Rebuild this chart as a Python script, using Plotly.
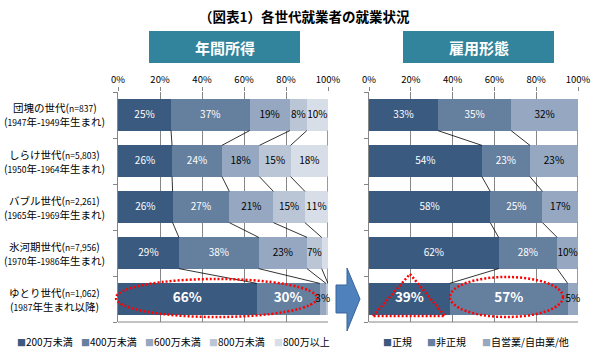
import plotly.graph_objects as go

FONT = "Noto Sans CJK JP"
W, H = 600, 356

# ---------------- data ----------------
categories = ["団塊の世代", "しらけ世代", "バブル世代", "氷河期世代", "ゆとり世代"]
sample_sizes = ["837", "5,803", "2,261", "7,956", "1,062"]
birth_from = ["1947", "1950", "1965", "1970", "1987"]
birth_to = ["1949", "1964", "1969", "1986", None]

income_series = ["200万未満", "400万未満", "600万未満", "800万未満", "800万以上"]
income_200 = [25, 26, 26, 29, 66]
income_400 = [37, 24, 27, 38, 30]
income_600 = [19, 18, 21, 23, 3]
income_800 = [8, 15, 15, 7, 1]
income_over = [10, 18, 11, 3, 0]
income_unlabeled = [("800万以上", 3), ("800万未満", 4), ("800万以上", 4)]

employment_series = ["正規", "非正規", "自営業/自由業/他"]
emp_regular = [33, 54, 58, 62, 39]
emp_nonregular = [35, 23, 25, 28, 57]
emp_self = [32, 23, 17, 10, 5]

x_ticks = [0, 20, 40, 60, 80, 100]
x_tick_labels = ["0%", "20%", "40%", "60%", "80%", "100%"]
highlight_row = 4  # ゆとり世代

# ---------------- style ----------------
income_colors = ["#3B5A80", "#657F9F", "#96A8C1", "#BAC6D6", "#D7DEE8"]
emp_colors = ["#3B5A80", "#657F9F", "#96A8C1"]
GRID = "#868686"
BAR_W = 0.68


def px(x, y):
    return x / W, 1 - y / H


fig = go.Figure()
ypos = list(range(len(categories)))


def add_chart(names, series, colors, xa, ya, unlabeled):
    totals = [sum(s[i] for s in series) for i in ypos]
    # stacked bars
    for k, (name, vals, col) in enumerate(zip(names, series, colors)):
        fig.add_trace(go.Bar(
            x=vals, y=ypos, orientation="h", name=name,
            marker=dict(color=col, line=dict(width=0)), width=BAR_W,
            xaxis=xa, yaxis=ya, showlegend=False, hoverinfo="skip"))
    # value labels at segment centres (normalised like barnorm='percent')
    tx, ty, tt, ts, tc = [], [], [], [], []
    running = [0.0] * len(ypos)
    lx, ly = [], []
    for k, (name, vals) in enumerate(zip(names, series)):
        for i in ypos:
            start = running[i] / totals[i] * 100
            end = (running[i] + vals[i]) / totals[i] * 100
            if (name, i) not in unlabeled:
                big = (i == highlight_row and k < 2)
                tx.append((start + end) / 2)
                ty.append(i)
                tt.append(f"<b>{vals[i]}%</b>" if big else f"{vals[i]}%")
                ts.append(13.5 if big else 10)
                tc.append("#FFFFFF" if k < 2 else "#000000")
        running = [running[i] + vals[i] for i in ypos]
        norm = [running[i] / totals[i] * 100 for i in ypos]
        for i in ypos[:-1]:
            lx += [norm[i], norm[i + 1], None]
            ly += [i + BAR_W / 2, i + 1 - BAR_W / 2, None]
    # series (connector) lines between consecutive bars
    fig.add_trace(go.Scatter(x=lx, y=ly, mode="lines",
                             line=dict(color="#000000", width=0.8),
                             xaxis=xa, yaxis=ya, showlegend=False,
                             hoverinfo="skip"))
    fig.add_trace(go.Scatter(x=tx, y=ty, mode="text", text=tt,
                             textposition="middle center",
                             textfont=dict(size=ts, color=tc, family=FONT),
                             cliponaxis=False, xaxis=xa, yaxis=ya,
                             showlegend=False, hoverinfo="skip"))


add_chart(income_series,
          [income_200, income_400, income_600, income_800, income_over],
          income_colors, "x", "y", income_unlabeled)
add_chart(employment_series,
          [emp_regular, emp_nonregular, emp_self],
          emp_colors, "x2", "y2", [])

ydom = [1 - 322 / H, 1 - 92 / H]
xcommon = dict(range=[0, 100], side="top", tickmode="array",
               tickvals=x_ticks, ticktext=x_tick_labels,
               showgrid=True, gridcolor=GRID, gridwidth=1, zeroline=False,
               ticks="outside", ticklen=4, tickcolor=GRID,
               tickfont=dict(size=9.5, color="#000000", family=FONT),
               showline=False, fixedrange=True, automargin=False)
ycommon = dict(range=[len(categories) - 0.5, -0.5], domain=ydom,
               tickmode="array",
               tickvals=[i - 0.5 for i in range(len(categories) + 1)],
               ticks="outside", ticklen=4, tickcolor=GRID,
               showticklabels=False, showline=True, linecolor=GRID,
               linewidth=1, showgrid=False, zeroline=False, fixedrange=True,
               automargin=False)

fig.update_layout(
    width=W, height=H, margin=dict(l=0, r=0, t=0, b=0, pad=0),
    paper_bgcolor="#FFFFFF", plot_bgcolor="#FFFFFF",
    barmode="stack", barnorm="percent", showlegend=False,
    font=dict(family=FONT, color="#000000"),
    xaxis=dict(domain=[118 / W, 328 / W], anchor="y", **xcommon),
    xaxis2=dict(domain=[369 / W, 578 / W], anchor="y2", **xcommon),
    yaxis=dict(anchor="x", **ycommon),
    yaxis2=dict(anchor="x2", **ycommon),
)

shapes = []
annotations = []

# bottom axis lines
for xd, yd in (("x domain", "y domain"), ("x2 domain", "y2 domain")):
    shapes.append(dict(type="line", xref=xd, yref=yd, x0=0, x1=1, y0=0, y1=0,
                       line=dict(color=GRID, width=1)))

# header boxes
for (x0, x1), label in (((149, 300), "年間所得"), ((403, 554), "雇用形態")):
    a0 = px(x0, 31)
    a1 = px(x1, 63)
    shapes.append(dict(type="rect", xref="paper", yref="paper",
                       x0=a0[0], y0=a1[1], x1=a1[0], y1=a0[1],
                       fillcolor="#31849B", line=dict(width=0), layer="below"))
    cx, cy = px((x0 + x1) / 2, 47)
    annotations.append(dict(xref="paper", yref="paper", x=cx, y=cy,
                            xanchor="center", yanchor="middle",
                            text=f"<b>{label}</b>", showarrow=False,
                            font=dict(size=15, color="#FFFFFF", family=FONT)))

# title
tx0, ty0 = px(304, 16)
annotations.append(dict(xref="paper", yref="paper", x=tx0, y=ty0,
                        xanchor="center", yanchor="middle",
                        text="<b>（図表1）各世代就業者の就業状況</b>",
                        showarrow=False,
                        font=dict(size=13.5, color="#000000", family=FONT)))

# category labels (two lines each)
small = "<span style='font-size:8.5px'>"
for i, cat in enumerate(categories):
    line1 = f"{cat}({small}n={sample_sizes[i]}</span>)"
    if birth_to[i]:
        line2 = f"({small}{birth_from[i]}</span>年-{small}{birth_to[i]}</span>年生まれ)"
    else:
        line2 = f"({small}{birth_from[i]}</span>年生まれ以降)"
    for txt, shift in ((line1, 7), (line2, -7)):
        annotations.append(dict(xref="paper", yref="y", x=55 / W, y=i,
                                yshift=shift, text=txt, showarrow=False,
                                xanchor="center", yanchor="middle",
                                font=dict(size=10.5, color="#000000",
                                          family=FONT)))


# legends (drawn as text)
def legend_row(names, colors, xs):
    for name, col, x in zip(names, colors, xs):
        lx, ly = px(x, 341)
        annotations.append(dict(
            xref="paper", yref="paper", x=lx, y=ly, xanchor="left",
            yanchor="middle", showarrow=False,
            text=f"<span style='color:{col};font-size:9px'>■</span>{name}",
            font=dict(size=10, color="#000000", family=FONT)))


legend_row(income_series, income_colors, [15, 79, 143, 207, 272])
legend_row(employment_series, emp_colors, [381, 425, 480])

# block arrow
pts = [(336, 285), (347, 285), (347, 268), (360, 299), (347, 331),
       (347, 313), (336, 313)]
path = "M " + " L ".join(f"{px(x, y)[0]:.5f},{px(x, y)[1]:.5f}" for x, y in pts) + " Z"
shapes.append(dict(type="path", xref="paper", yref="paper", path=path,
                   fillcolor="#4F81BD", line=dict(color="#3A6699", width=1)))

# red dotted highlights
red = dict(color="#FF0000", width=2.5, dash="2px,2px")
for (x0, y0, x1, y1) in ((116, 279, 317, 317), (450, 277, 563, 317)):
    a0 = px(x0, y0)
    a1 = px(x1, y1)
    shapes.append(dict(type="circle", xref="paper", yref="paper",
                       x0=a0[0], y0=a1[1], x1=a1[0], y1=a0[1], line=red))
tri = [(373, 316), (410, 274), (445, 316)]
tpath = "M " + " L ".join(f"{px(x, y)[0]:.5f},{px(x, y)[1]:.5f}" for x, y in tri) + " Z"
shapes.append(dict(type="path", xref="paper", yref="paper", path=tpath,
                   line=red))

fig.update_layout(shapes=shapes, annotations=annotations)
fig.write_html("out.html",
               config={"displayModeBar": False, "staticPlot": True},
               post_script="document.body.style.margin='0';"
                           "document.body.style.padding='0';")
